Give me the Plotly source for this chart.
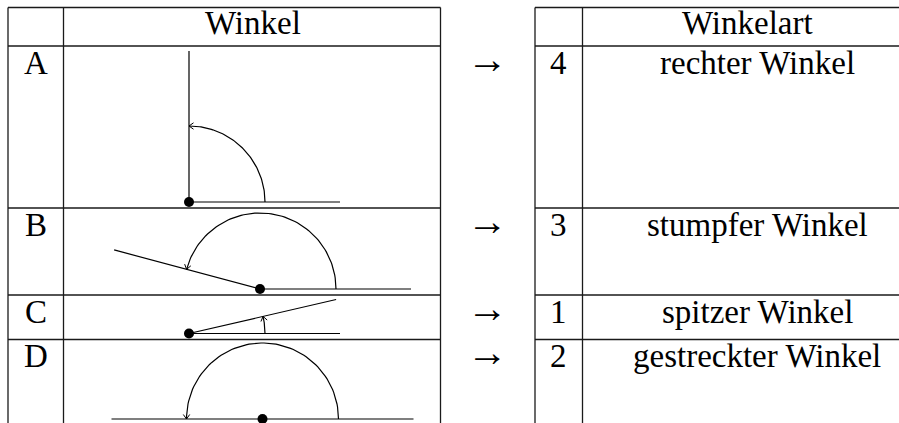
import numpy as np
import plotly.graph_objects as go

# Inhalt der Tabelle
row_labels = ["A", "B", "C", "D"]
angle_degrees = [90, 165, 13, 180]
type_numbers = ["4", "3", "1", "2"]
type_names = ["rechter Winkel", "stumpfer Winkel", "spitzer Winkel", "gestreckter Winkel"]
header_left = "Winkel"
header_right = "Winkelart"

# Layout in Pixeln (Achsen laufen 0..899 / 0..423)
WIDTH, HEIGHT = 899, 423
ROW_EDGES = [7.5, 46, 208, 295, 339.5]
LEFT_COLS = [8, 63.5, 440.5]
RIGHT_COLS = [535, 582.5, 910]
VERTICES = [(189, 202), (260, 289), (189, 333.5), (262.5, 419)]
RAY_LENGTH = 151
ARC_RADIUS = 76
BASELINE_OFFSET = 27.5
FONT = dict(family="Liberation Serif", size=33, color="black")
ARROW_FONT = dict(family="Liberation Serif", size=41, color="black")
LINE = dict(color="black", width=1.2)
GRID = dict(color="#1a1a1a", width=1.3)


def polar_point(vertex, radius, theta):
    """Punkt auf einem Strahl (y-Achse zeigt nach unten)."""
    return vertex[0] + radius * np.cos(theta), vertex[1] - radius * np.sin(theta)


fig = go.Figure()

for vertex, degrees in zip(VERTICES, angle_degrees):
    theta = np.radians(degrees)

    # Schenkel: einer nach rechts, einer im Winkel
    x0, y0 = polar_point(vertex, RAY_LENGTH, 0)
    x1, y1 = polar_point(vertex, RAY_LENGTH, theta)
    fig.add_trace(go.Scatter(x=[x0, vertex[0], x1], y=[y0, vertex[1], y1],
                             mode="lines", line=LINE, hoverinfo="skip"))

    # Winkelbogen mit Pfeilspitze
    arc = np.linspace(0, theta, 80)
    ax, ay = polar_point(vertex, ARC_RADIUS, arc)
    fig.add_trace(go.Scatter(x=ax, y=ay, mode="lines", line=LINE, hoverinfo="skip"))

    tip_x, tip_y = ax[-1], ay[-1]
    tx, ty = -np.sin(theta), -np.cos(theta)
    nx, ny = -ty, tx
    length, half = 4.5, 3.2
    fig.add_trace(go.Scatter(
        x=[tip_x - length * tx + half * nx, tip_x, tip_x - length * tx - half * nx],
        y=[tip_y - length * ty + half * ny, tip_y, tip_y - length * ty - half * ny],
        mode="lines", line=dict(color="black", width=1), hoverinfo="skip"))

    # Scheitelpunkt
    fig.add_trace(go.Scatter(x=[vertex[0]], y=[vertex[1]], mode="markers",
                             marker=dict(size=10, color="black"), hoverinfo="skip"))

# Tabellenlinien
for cols in (LEFT_COLS, RIGHT_COLS):
    for y in ROW_EDGES:
        fig.add_shape(type="line", x0=cols[0], x1=cols[-1], y0=y, y1=y, line=GRID)
    for x in cols:
        fig.add_shape(type="line", x0=x, x1=x, y0=ROW_EDGES[0], y1=HEIGHT + 20, line=GRID)


def add_text(text, x, y, font=FONT):
    fig.add_annotation(text=text, x=x, y=y, xanchor="center", yanchor="middle",
                       showarrow=False, font=font)


add_text(header_left, 253, ROW_EDGES[0] + 26.5 - 11)
add_text(header_right, 747, ROW_EDGES[0] + 26.5 - 11)
for i, label in enumerate(row_labels):
    baseline = ROW_EDGES[i + 1] + BASELINE_OFFSET
    add_text(label, 35.5, baseline - 11)
    add_text("→", 487.5, baseline - 15, ARROW_FONT)
    add_text(type_numbers[i], 558.5, baseline - 11)
    add_text(type_names[i], 757, baseline - 11)

fig.update_layout(
    width=WIDTH,
    height=HEIGHT,
    margin=dict(l=0, r=0, t=0, b=0),
    paper_bgcolor="white",
    plot_bgcolor="white",
    showlegend=False,
    hovermode=False,
    xaxis=dict(range=[0, WIDTH], visible=False, fixedrange=True),
    yaxis=dict(range=[HEIGHT, 0], visible=False, fixedrange=True),
)

# Seitenrand entfernen, damit die Grafik genau im Fenster liegt
fig.write_html(
    "out.html",
    config={"displayModeBar": False},
    post_script="document.body.style.margin='0';document.body.style.overflow='hidden';",
)
